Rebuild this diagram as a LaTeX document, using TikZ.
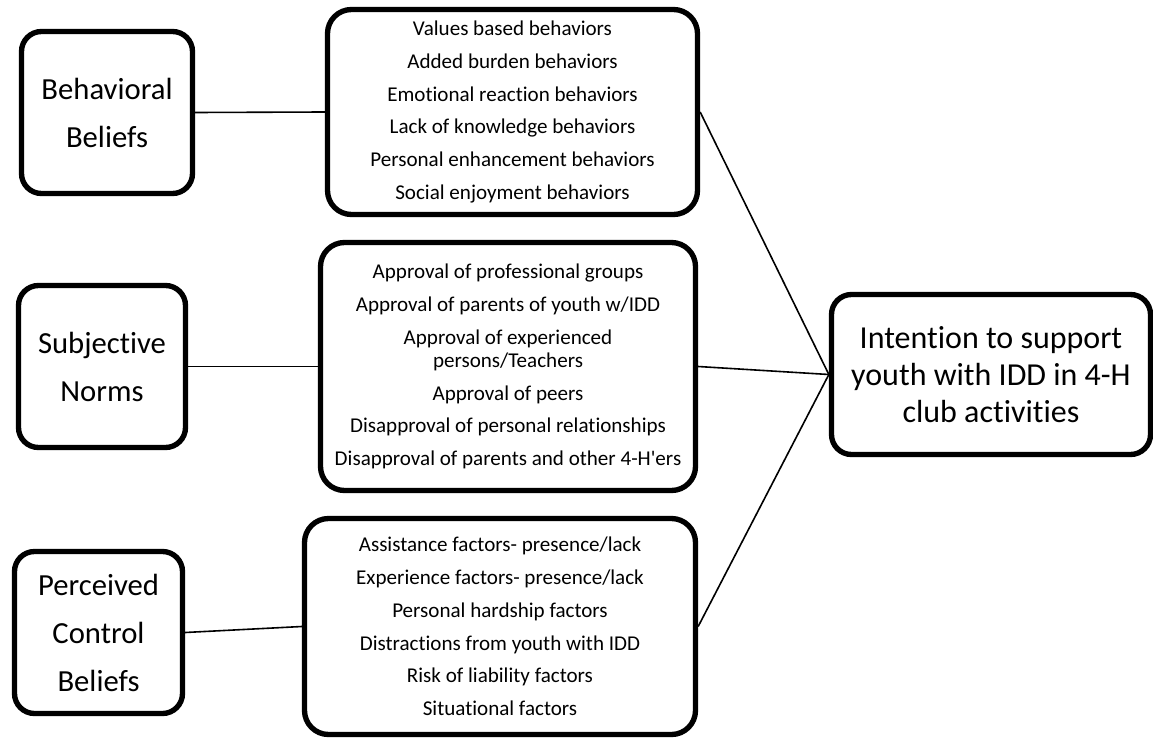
\documentclass[tikz,border=0pt]{standalone}
\usepackage{fontspec}
\setmainfont{Carlito}[Ligatures=NoCommon]
\usepackage{xcolor}
\usepackage{tikz}
\definecolor{boxline}{HTML}{000000}
\colorlet{darktext}{black}
\tikzset{
  every node/.append style={font=\rmfamily,text=darktext},
  beliefbox/.style={draw=boxline,line width=4pt,rounded corners=15pt,inner sep=0pt,
    align=center,font=\fontsize{23}{36}\selectfont,minimum height=121.5pt},
  listbox/.style={draw=boxline,line width=4pt,rounded corners=18pt,inner sep=0pt,
    align=center,font=\fontsize{15.8}{17.5}\selectfont},
  intentbox/.style={draw=boxline,line width=4pt,rounded corners=15pt,inner sep=0pt,
    align=center,font=\fontsize{24}{28}\selectfont},
  link/.style={draw=boxline,line width=1.2pt}
}
\begin{document}
\begin{tikzpicture}[x=0.75pt,y=-0.75pt]
  \useasboundingbox (0,0) rectangle (1153,738);
  \node[beliefbox,minimum width=128.25pt] (bb) at (107,112.5) {Behavioral\\Beliefs};
  \node[beliefbox,minimum width=125.25pt] (sn) at (102,366.5) {Subjective\\Norms};
  \node[beliefbox,minimum width=126pt] (pc) at (98.5,632.5) {Perceived\\Control\\Beliefs};
  \node[listbox,minimum width=277.5pt,minimum height=153.75pt] (bl) at (512.5,112) {%
    Values based behaviors\\[7.1pt]
    Added burden behaviors\\[7.1pt]
    Emotional reaction behaviors\\[7.1pt]
    Lack of knowledge behaviors\\[7.1pt]
    Personal enhancement behaviors\\[7.1pt]
    Social enjoyment behaviors};
  \node[listbox,minimum width=281.25pt,minimum height=186pt] (sl) at (508,366.5) {%
    Approval of professional groups\\[7.1pt]
    Approval of parents of youth w/IDD\\[7.1pt]
    Approval of experienced\\
    persons/Teachers\\[7.1pt]
    Approval of peers\\[7.1pt]
    Disapproval of personal relationships\\[7.1pt]
    Disapproval of parents and other 4-H\textquotesingle ers};
  \node[listbox,minimum width=293.25pt,minimum height=162pt] (pl) at (500,626.5) {%
    Assistance factors- presence/lack\\[7.1pt]
    Experience factors- presence/lack\\[7.1pt]
    Personal hardship factors\\[7.1pt]
    Distractions from youth with IDD\\[7.1pt]
    Risk of liability factors\\[7.1pt]
    Situational factors};
  \node[intentbox,minimum width=239.25pt,minimum height=120pt] (in) at (991,374.5) {%
    Intention to support\\youth with IDD in 4-H\\club activities};
  \draw[link] (bb.east) -- (bl.west);
  \draw[link] (sn.east) -- (sl.west);
  \draw[link] (pc.east) -- (pl.west);
  \draw[link] (bl.east) -- (in.west);
  \draw[link] (sl.east) -- (in.west);
  \draw[link] (pl.east) -- (in.west);
\end{tikzpicture}
\end{document}
